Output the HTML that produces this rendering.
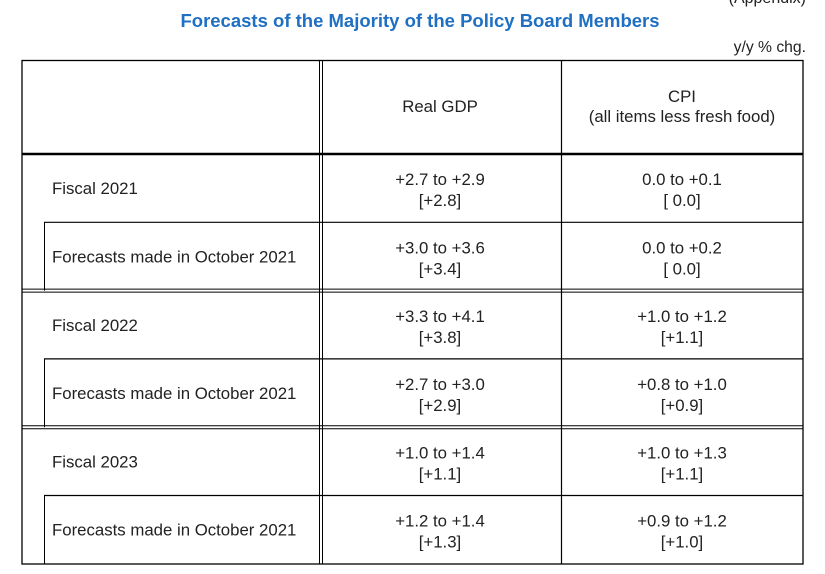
<!DOCTYPE html>
<html><head><meta charset="utf-8"><style>
html,body{margin:0;padding:0;background:#fff;}
svg{display:block;font-family:"Liberation Sans",Arial,sans-serif;}
</style></head><body>
<svg id="t" width="825" height="574" viewBox="0 0 825 574">
<text x="806" y="3" text-anchor="end" font-size="16" fill="#222">(Appendix)</text>
<text x="420" y="27" text-anchor="middle" font-size="18.5" font-weight="bold" fill="#1f6fc2">Forecasts of the Majority of the Policy Board Members</text>
<text x="806" y="52" text-anchor="end" font-size="15.7" fill="#222">y/y % chg.</text>
<g stroke="#000" fill="none">
<rect x="22" y="60.5" width="781" height="503.5" stroke-width="1.3"/>
<line x1="319.5" y1="60" x2="319.5" y2="564" stroke-width="1"/>
<line x1="322.5" y1="60" x2="322.5" y2="564" stroke-width="1"/>
<line x1="561.5" y1="60" x2="561.5" y2="564" stroke-width="1.2"/>
<line x1="22" y1="154" x2="803" y2="154" stroke-width="2.5"/>
</g>
<g id="rows"></g>
<text x="440" y="112" text-anchor="middle" font-size="16.8" fill="#222">Real GDP</text>
<text x="682" y="102" text-anchor="middle" font-size="16.8" fill="#222">CPI</text>
<text x="682" y="122" text-anchor="middle" font-size="16.8" fill="#222">(all items less fresh food)</text>
</svg>
<script>
const rowLabels=["Fiscal 2021","Forecasts made in October 2021","Fiscal 2022","Forecasts made in October 2021","Fiscal 2023","Forecasts made in October 2021"];
const gdpRange=["+2.7 to +2.9","+3.0 to +3.6","+3.3 to +4.1","+2.7 to +3.0","+1.0 to +1.4","+1.2 to +1.4"];
const gdpMedian=["[+2.8]","[+3.4]","[+3.8]","[+2.9]","[+1.1]","[+1.3]"];
const cpiRange=["0.0 to +0.1","0.0 to +0.2","+1.0 to +1.2","+0.8 to +1.0","+1.0 to +1.3","+0.9 to +1.2"];
const cpiMedian=["[ 0.0]","[ 0.0]","[+1.1]","[+0.9]","[+1.1]","[+1.0]"];
const NS="http://www.w3.org/2000/svg";
const g=document.getElementById('rows');
const top0=154,rowH=68.3;
function mk(tag,attrs){const e=document.createElementNS(NS,tag);for(const k in attrs)e.setAttribute(k,attrs[k]);g.appendChild(e);return e;}
function txt(x,y,s,anchor){const e=mk('text',{x:x,y:y,'font-size':16.8,fill:'#222','text-anchor':anchor});e.textContent=s;return e;}
rowLabels.forEach((lab,i)=>{
  const y0=top0+i*rowH, y1=y0+rowH, c=(y0+y1)/2;
  const sub=i%2===1;
  if(sub){
    const l=mk('line',{x1:44.5,y1:y0,x2:44.5,y2:y1,stroke:'#000','stroke-width':1});
    
    
    const h=mk('line',{x1:44,y1:y0,x2:803,y2:y0,stroke:'#000','stroke-width':1.2});
    
    
  } else if(i>0){
    const h1=mk('line',{x1:22,y1:y0-1.5,x2:803,y2:y0-1.5,stroke:'#000','stroke-width':1});
    
    
    const h2=mk('line',{x1:22,y1:y0+1.5,x2:803,y2:y0+1.5,stroke:'#000','stroke-width':1});
    
    
  }
  const t=txt(52,c+6,lab,'start');
  
  
  const a=txt(440,c-3,gdpRange[i],'middle');
  
  
  const b=txt(440,c+18,gdpMedian[i],'middle');
  
  
  const d=txt(682,c-3,cpiRange[i],'middle');
  
  
  const e=txt(682,c+18,cpiMedian[i],'middle');
  
  
});
</script>
</body></html>
